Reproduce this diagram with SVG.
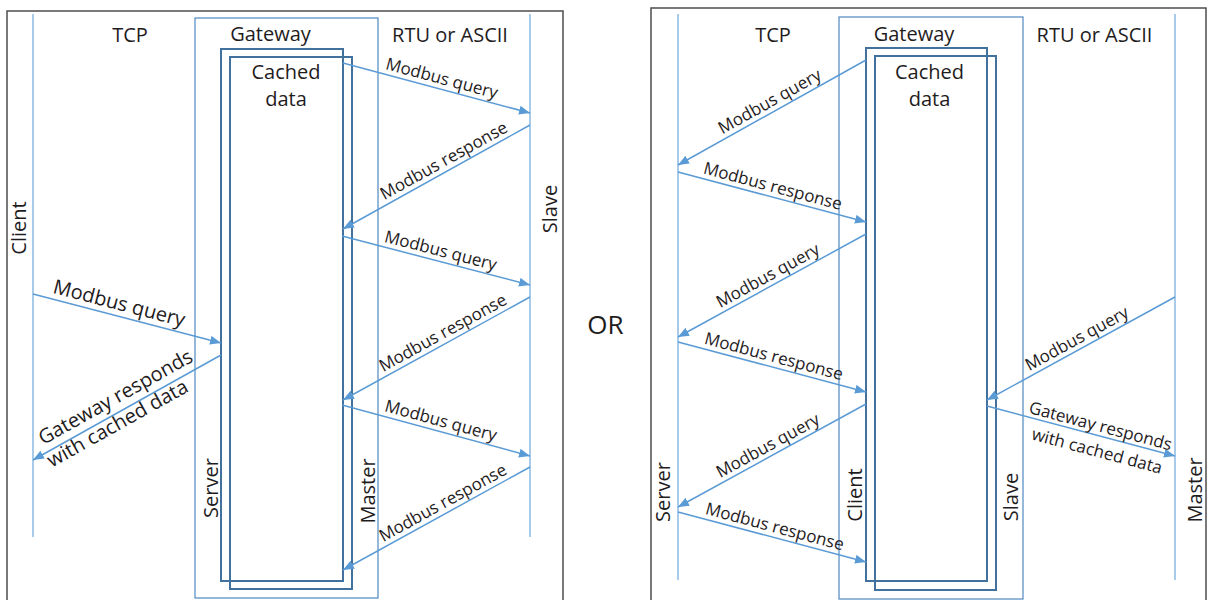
<svg xmlns="http://www.w3.org/2000/svg" width="1209" height="600" viewBox="0 0 1209 600">
<defs>
<marker id="ah" markerUnits="userSpaceOnUse" markerWidth="12" markerHeight="10" refX="11" refY="4.5" orient="auto">
<path d="M0,0 L11,4.5 L0,9 z" fill="#5b9bd5"/>
</marker>
<style>
text{font-family:"Open Sans","Noto Sans","Liberation Sans",sans-serif;fill:#1f1c1d;}
.h{font-size:20px;text-anchor:middle;}
.lbl{font-size:17px;text-anchor:middle;}
.big{font-size:20px;text-anchor:middle;}
.frame{fill:none;stroke:#4d4d4d;stroke-width:1.5;}
.life{stroke:#6fa8dc;stroke-width:1.2;fill:none;}
.gw{fill:none;stroke:#4f87c2;stroke-width:1.2;}
.inner{fill:none;stroke:#41719c;stroke-width:2;}
.arr{stroke:#5b9bd5;stroke-width:1.5;fill:none;marker-end:url(#ah);}
</style>
</defs>
<rect width="1209" height="600" fill="#ffffff"/>

<g id="frame-left"><rect class="frame" x="7" y="11" width="556" height="610"/></g>
<g id="frame-right"><rect class="frame" x="651" y="8" width="555" height="613"/></g>

<!-- Left panel -->
<g id="left-client"><line class="life" x1="33" y1="14" x2="33" y2="537"/>
<text class="h" transform="translate(26,228) rotate(-90)">Client</text></g>
<g id="left-tcp"><text class="h" x="130" y="42">TCP</text></g>
<g id="left-gateway"><rect class="gw" x="195" y="18" width="183" height="580"/>
<text class="h" x="270.5" y="41">Gateway</text>
<text class="h" transform="translate(218,488) rotate(-90)">Server</text>
<text class="h" transform="translate(375,491) rotate(-90)">Master</text></g>
<g id="left-cache"><rect class="inner" x="221" y="49" width="122" height="532"/>
<rect class="inner" x="230" y="57" width="122" height="532"/>
<text class="h" x="286" y="79">Cached</text><text class="h" x="286" y="106">data</text></g>
<g id="left-rtu"><text class="h" x="450" y="42">RTU or ASCII</text></g>
<g id="left-slave"><line class="life" x1="530" y1="14" x2="530" y2="537"/>
<text class="h" transform="translate(557,209) rotate(-90)">Slave</text></g>
<g id="or"><text x="605.5" y="334" style="font-size:26px;text-anchor:middle">OR</text></g>

<!-- Right panel -->
<g id="right-server"><line class="life" x1="678" y1="14" x2="678" y2="580"/>
<text class="h" transform="translate(670,492) rotate(-90)">Server</text></g>
<g id="right-tcp"><text class="h" x="773" y="42">TCP</text></g>
<g id="right-gateway"><rect class="gw" x="839" y="17" width="184" height="582"/>
<text class="h" x="914" y="41">Gateway</text>
<text class="h" transform="translate(862,495) rotate(-90)">Client</text>
<text class="h" transform="translate(1018,497) rotate(-90)">Slave</text></g>
<g id="right-cache"><rect class="inner" x="866" y="48" width="121" height="533"/>
<rect class="inner" x="875" y="56" width="121" height="534"/>
<text class="h" x="929.5" y="79">Cached</text><text class="h" x="929.5" y="106">data</text></g>
<g id="right-rtu"><text class="h" x="1094.5" y="42">RTU or ASCII</text></g>
<g id="right-master"><line class="life" x1="1175" y1="14" x2="1175" y2="580"/>
<text class="h" transform="translate(1202,490) rotate(-90)">Master</text></g>

<g id="connectors">
<!-- left -->
<line class="arr" x1="33" y1="294" x2="221" y2="343"/>
<line class="arr" x1="221" y1="355" x2="33" y2="460"/>
<line class="arr" x1="343" y1="63" x2="530" y2="113"/>
<line class="arr" x1="530" y1="125" x2="343" y2="229"/>
<line class="arr" x1="342" y1="236" x2="530" y2="285"/>
<line class="arr" x1="530" y1="297" x2="343" y2="400"/>
<line class="arr" x1="342" y1="405" x2="530" y2="456"/>
<line class="arr" x1="530" y1="467" x2="343" y2="570"/>
<!-- right -->
<line class="arr" x1="866" y1="60" x2="678" y2="165"/>
<line class="arr" x1="678" y1="172" x2="866" y2="222"/>
<line class="arr" x1="866" y1="234" x2="678" y2="337"/>
<line class="arr" x1="678" y1="342" x2="866" y2="392"/>
<line class="arr" x1="866" y1="404" x2="678" y2="507"/>
<line class="arr" x1="678" y1="512" x2="866" y2="562"/>
<line class="arr" x1="1175" y1="297" x2="987" y2="400"/>
<line class="arr" x1="987" y1="406" x2="1175" y2="456"/>

<!-- labels left -->
<text class="big" transform="translate(116,315.6) rotate(14.61)" y="-6">Modbus query</text>
<g transform="translate(120,411.4) rotate(-29.18)">
<text class="big" x="3" y="-8">Gateway responds</text>
<text class="big" x="-8" y="16">with cached data</text></g>
<text class="lbl" transform="translate(439,88.7) rotate(14.97)" y="-5">Modbus query</text>
<text class="lbl" transform="translate(449,170) rotate(-29.08)" y="-5">Modbus response</text>
<text class="lbl" transform="translate(438,261) rotate(14.61)" y="-5">Modbus query</text>
<text class="lbl" transform="translate(448,342.2) rotate(-28.85)" y="-5">Modbus response</text>
<text class="lbl" transform="translate(438,431) rotate(15.18)" y="-5">Modbus query</text>
<text class="lbl" transform="translate(448,512.2) rotate(-28.85)" y="-5">Modbus response</text>
<!-- labels right -->
<text class="lbl" transform="translate(775,110.8) rotate(-29.18)" y="-5">Modbus query</text>
<text class="lbl" transform="translate(770,196.5) rotate(14.89)" y="-5">Modbus response</text>
<text class="lbl" transform="translate(773,285) rotate(-28.72)" y="-5">Modbus query</text>
<text class="lbl" transform="translate(771,366.7) rotate(14.89)" y="-5">Modbus response</text>
<text class="lbl" transform="translate(773,455) rotate(-28.72)" y="-5">Modbus query</text>
<text class="lbl" transform="translate(772,537) rotate(14.89)" y="-5">Modbus response</text>
<text class="lbl" transform="translate(1082,348) rotate(-28.72)" y="-5">Modbus query</text>
<g transform="translate(1098,435.5) rotate(14.89)">
<text class="lbl" x="0" y="-4">Gateway responds</text>
<text class="lbl" x="3" y="21">with cached data</text></g>
</g>
</svg>
